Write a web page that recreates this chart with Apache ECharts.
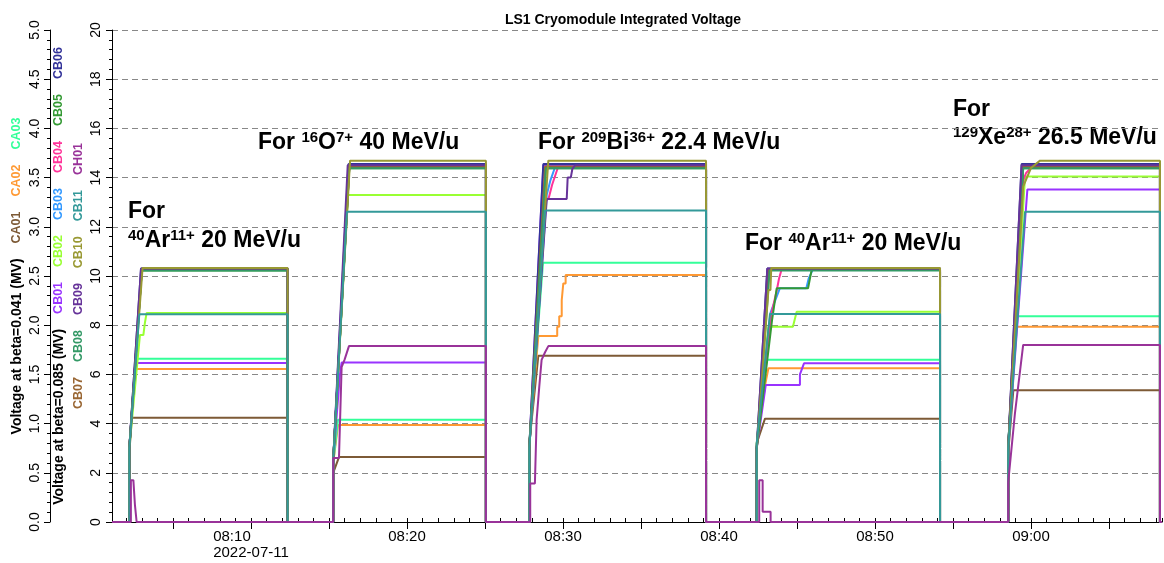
<!DOCTYPE html>
<html>
<head>
<meta charset="utf-8">
<title>LS1 Cryomodule Integrated Voltage</title>
<script src="https://cdn.jsdelivr.net/npm/echarts@6/dist/echarts.min.js"></script>
<style>
  html, body { margin: 0; padding: 0; background: #fff; }
  #chart { width: 1164px; height: 563px; }
</style>
</head>
<body>
<div id="chart"></div>
<script>
// x values: minutes after 08:00 (UTC) on 2022-07-11; y values: MV
const BASE = Date.UTC(2022, 6, 11, 8, 0, 0);
const DATE_LABEL = '2022-07-11';
const X_MIN = 1.09, X_MAX = 68.4;

const names = ['CA01', 'CA02', 'CA03', 'CB01', 'CB02', 'CB03', 'CB04', 'CB05',
  'CB06', 'CB07', 'CB08', 'CB09', 'CB10', 'CB11', 'CH01'];
const colors = ['#7d5a36', '#ff9933', '#33ff99', '#9933ff', '#99ff33', '#3399ff', '#ff3399', '#339933',
  '#333399', '#996633', '#339966', '#663399', '#999933', '#339999', '#993399'];

// beta=0.041 cavities (outer axis, 0..5 MV)
const CA01 = [[1.09,0],[2.2,0],[2.2,0.7],[2.36,1.06],[12.35,1.06],[12.35,0],
  [15.27,0],[15.27,0.5],[15.64,0.66],[25.06,0.66],[25.06,0],
  [27.84,0],[27.84,0.8],[28.42,1.69],[39.17,1.69],[39.17,0],
  [42.42,0],[42.42,0.8],[42.95,1.05],[54.17,1.05],[54.17,0],
  [58.54,0],[58.54,0.7],[58.87,1.34],[68.27,1.34],[68.27,0],[68.4,0]];
const CA02 = [[1.09,0],[2.2,0],[2.2,0.75],[2.58,1.555],[12.35,1.555],[12.35,0],
  [15.27,0],[15.27,0.6],[15.58,0.985],[25.06,0.985],[25.06,0],
  [27.84,0],[27.84,0.8],[28.42,1.89],[29.63,1.89],[29.63,1.985],[29.76,1.985],[29.76,2.09],[29.92,2.09],
  [29.92,2.255],[30.02,2.255],[30.02,2.425],[30.17,2.425],[30.17,2.51],[39.17,2.51],[39.17,0],
  [42.42,0],[42.42,0.8],[42.98,1.41],[43.1,1.41],[43.17,1.5625],[54.17,1.5625],[54.17,0],
  [58.54,0],[58.54,0.75],[59.02,1.985],[68.27,1.985],[68.27,0],[68.4,0]];
const CA03 = [[1.09,0],[2.2,0],[2.2,0.75],[2.63,1.66],[12.35,1.66],[12.35,0],
  [15.27,0],[15.27,0.6],[15.58,1.04],[25.06,1.04],[25.06,0],
  [27.84,0],[27.84,0.8],[28.72,2.635],[39.17,2.635],[39.17,0],
  [42.42,0],[42.42,0.8],[43.06,1.65],[54.17,1.65],[54.17,0],
  [58.54,0],[58.54,0.8],[59.08,2.09],[68.27,2.09],[68.27,0],[68.4,0]];

// beta=0.085 cavities + CH01 (inner axis, 0..20 MV)
const CB01 = [[1.09,0],[2.2,0],[2.2,3],[2.62,6.46],[12.35,6.46],[12.35,0],
  [15.27,0],[15.27,2.5],[15.7,6.0],[15.78,6.0],[15.81,6.48],[25.06,6.48],[25.06,0],
  [27.84,0],[27.84,3],[28.74,14.5],[39.17,14.5],[39.17,0],
  [42.42,0],[42.42,3],[43.0,5.57],[45.19,5.57],[45.19,6.0],[45.3,6.0],[45.45,6.45],[54.17,6.45],[54.17,0],
  [58.54,0],[58.54,3],[59.77,13.52],[68.27,13.52],[68.27,0],[68.4,0]];
const CB02 = [[1.09,0],[2.2,0],[2.2,3],[2.88,7.6],[3.1,7.6],[3.2,8.1],[3.31,8.5],[12.35,8.5],[12.35,0],
  [15.27,0],[15.27,2.5],[16.22,13.29],[25.06,13.29],[25.06,0],
  [27.84,0],[27.84,3],[28.9,14.4],[39.17,14.4],[39.17,0],
  [42.42,0],[42.42,3],[43.17,7.94],[44.74,7.94],[44.98,8.55],[54.17,8.55],[54.17,0],
  [58.54,0],[58.54,3],[59.62,14.04],[68.27,14.04],[68.27,0],[68.4,0]];
const CB03 = [[1.09,0],[2.2,0],[2.2,3],[3.0,10.28],[12.35,10.28],[12.35,0],
  [15.27,0],[15.27,2.5],[16.3,14.42],[25.06,14.42],[25.06,0],
  [27.84,0],[27.84,3],[28.96,13.3],[29.2,13.9],[29.49,14.42],[39.17,14.42],[39.17,0],
  [42.42,0],[42.42,3],[43.3,8.5],[43.9,9.5],[45.6,9.5],[45.75,9.9],[46.03,10.28],[54.17,10.28],[54.17,0],
  [58.54,0],[58.54,3],[59.5,14.42],[68.27,14.42],[68.27,0],[68.4,0]];
const CB04 = [[1.09,0],[2.2,0],[2.2,3],[3.0,10.28],[12.35,10.28],[12.35,0],
  [15.27,0],[15.27,2.5],[16.3,14.42],[25.06,14.42],[25.06,0],
  [27.84,0],[27.84,3],[28.86,13.0],[29.1,13.2],[29.3,13.7],[29.68,14.42],[39.17,14.42],[39.17,0],
  [42.42,0],[42.42,3],[43.37,8.5],[43.7,9.4],[43.85,9.9],[44.02,10.28],[54.17,10.28],[54.17,0],
  [58.54,0],[58.54,3],[59.5,13.9],[59.7,14.2],[60.05,14.42],[68.27,14.42],[68.27,0],[68.4,0]];
const CB05 = [[1.09,0],[2.2,0],[2.2,3],[3.0,10.22],[12.35,10.22],[12.35,0],
  [15.27,0],[15.27,2.5],[16.3,14.38],[25.06,14.38],[25.06,0],
  [27.84,0],[27.84,3],[28.9,14.38],[39.17,14.38],[39.17,0],
  [42.42,0],[42.42,3],[43.4,8.2],[43.7,9.5],[45.71,9.5],[45.94,10.25],[54.17,10.25],[54.17,0],
  [58.54,0],[58.54,3],[59.5,14.38],[68.27,14.38],[68.27,0],[68.4,0]];
const CB06 = [[1.09,0],[2.2,0],[2.2,3],[2.95,10.3],[12.35,10.3],[12.35,0],
  [15.27,0],[15.27,2.5],[16.25,14.55],[25.06,14.55],[25.06,0],
  [27.84,0],[27.84,3],[28.74,14.55],[39.17,14.55],[39.17,0],
  [42.42,0],[42.42,3],[43.1,10.3],[54.17,10.3],[54.17,0],
  [58.54,0],[58.54,3],[59.4,14.55],[68.27,14.55],[68.27,0],[68.4,0]];
const CB07 = [[1.09,0],[2.2,0],[2.2,3],[3.0,10.25],[12.35,10.25],[12.35,0],
  [15.27,0],[15.27,2.5],[16.3,14.45],[25.06,14.45],[25.06,0],
  [27.84,0],[27.84,3],[28.85,14.45],[39.17,14.45],[39.17,0],
  [42.42,0],[42.42,3],[43.2,10.25],[54.17,10.25],[54.17,0],
  [58.54,0],[58.54,3],[59.45,14.45],[68.27,14.45],[68.27,0],[68.4,0]];
const CB08 = [[1.09,0],[2.2,0],[2.2,3],[3.0,10.22],[12.35,10.22],[12.35,0],
  [15.27,0],[15.27,2.5],[16.3,14.38],[25.06,14.38],[25.06,0],
  [27.84,0],[27.84,3],[28.9,14.38],[39.17,14.38],[39.17,0],
  [42.42,0],[42.42,3],[43.25,10.22],[54.17,10.22],[54.17,0],
  [58.54,0],[58.54,3],[59.5,14.38],[68.27,14.38],[68.27,0],[68.4,0]];
const CB09 = [[1.09,0],[2.2,0],[2.2,3],[2.95,10.3],[12.35,10.3],[12.35,0],
  [15.27,0],[15.27,2.5],[16.2,14.5],[25.06,14.5],[25.06,0],
  [27.84,0],[27.84,3],[28.96,13.13],[30.24,13.13],[30.3,14.0],[30.5,14.0],[30.6,14.35],[30.77,14.5],[39.17,14.5],[39.17,0],
  [42.42,0],[42.42,3],[43.1,10.3],[54.17,10.3],[54.17,0],
  [58.54,0],[58.54,3],[59.4,14.5],[68.27,14.5],[68.27,0],[68.4,0]];
const CB10 = [[1.09,0],[2.2,0],[2.2,3],[3.05,10.33],[12.35,10.33],[12.35,0],
  [15.27,0],[15.27,2.5],[16.35,14.69],[25.06,14.69],[25.06,0],
  [27.84,0],[27.84,3],[29.06,14.69],[39.17,14.69],[39.17,0],
  [42.42,0],[42.42,3],[43.17,9.43],[43.3,9.43],[43.35,10.33],[54.17,10.33],[54.17,0],
  [58.54,0],[58.54,3],[59.5,13.63],[60.0,14.39],[60.58,14.69],[68.27,14.69],[68.27,0],[68.4,0]];
const CB11 = [[1.09,0],[2.2,0],[2.2,3],[2.84,8.45],[12.35,8.45],[12.35,0],
  [15.27,0],[15.27,2.5],[16.15,12.61],[25.06,12.61],[25.06,0],
  [27.84,0],[27.84,3],[28.85,12.66],[39.17,12.66],[39.17,0],
  [42.42,0],[42.42,3.2],[43.27,8.46],[54.17,8.46],[54.17,0],
  [58.54,0],[58.54,3],[59.62,12.61],[68.27,12.61],[68.27,0],[68.4,0]];
const CH01 = [[1.09,0],[2.3,0],[2.3,1.7],[2.46,1.7],[2.56,0.7],[2.67,0],
  [15.27,0],[15.27,2.6],[15.64,2.6],[15.81,6.3],[16.0,6.6],[16.28,7.15],[25.06,7.15],[25.06,0],
  [27.9,0],[27.9,1.57],[28.2,1.57],[28.31,4.15],[28.48,5.5],[28.63,6.59],[28.85,6.9],[29.06,7.15],[39.17,7.15],[39.17,0],
  [42.58,0],[42.58,1.7],[42.8,1.7],[42.8,0.42],[43.31,0.42],[43.31,0],
  [58.54,0],[58.54,1.6],[58.97,4.4],[59.5,7.2],[68.27,7.2],[68.27,0],[68.4,0]];

const seriesData = [CA01, CA02, CA03, CB01, CB02, CB03, CB04, CB05, CB06, CB07, CB08, CB09, CB10, CB11, CH01];
const outerNames = ['CA01', 'CA02', 'CA03'];
const innerRow1 = ['CB01', 'CB02', 'CB03', 'CB04', 'CB05', 'CB06'];
const innerRow2 = ['CB07', 'CB08', 'CB09', 'CB10', 'CB11', 'CH01'];

const FONT = '"Liberation Sans", Arial, sans-serif';
const toMs = (m) => BASE + Math.round(m * 60000);
const pad = (n) => (n < 10 ? '0' : '') + n;

// axis titles carry the trace names, coloured like the traces
const nameRich = { t: { fontSize: 14, fontWeight: 'bold', fontFamily: FONT, color: '#000', lineHeight: 20, align: 'center' } };
names.forEach((n, i) => {
  nameRich[n] = { fontSize: 12.5, fontWeight: 'bold', fontFamily: FONT, color: colors[i],
    lineHeight: 20, align: 'center', padding: [0, 0, 0, 15] };
});
const tag = (n) => '{' + n + '|' + n + '}';
const outerName = '{t|Voltage at beta=0.041 (MV)}' + outerNames.map(tag).join('');
const innerName = '{t|Voltage at beta=0.085 (MV)}' + innerRow1.map(tag).join('') + '\n' +
  innerRow2.map((n, i) => i === 0 ? '{' + n + '0|' + n + '}' : tag(n)).join('');
nameRich[innerRow2[0] + '0'] = Object.assign({}, nameRich[innerRow2[0]], { padding: 0 });

const firstTick = Math.ceil(toMs(X_MIN) / 600000) * 600000;

const annRich = {
  m: { fontSize: 23, fontWeight: 'bold', fontFamily: FONT, color: '#000', lineHeight: 26, verticalAlign: 'middle' },
  s: { fontSize: 15, fontWeight: 'bold', fontFamily: FONT, color: '#000', lineHeight: 15, verticalAlign: 'top' }
};
const annotations = [
  { x: 128, y: 212, text: '{m|For}' },
  { x: 128, y: 241, text: '{s|40}{m|Ar}{s|11+}{m| 20 MeV/u}' },
  { x: 258, y: 143, text: '{m|For }{s|16}{m|O}{s|7+}{m| 40 MeV/u}' },
  { x: 538, y: 143, text: '{m|For }{s|209}{m|Bi}{s|36+}{m| 22.4 MeV/u}' },
  { x: 745, y: 244, text: '{m|For }{s|40}{m|Ar}{s|11+}{m| 20 MeV/u}' },
  { x: 953, y: 110, text: '{m|For}' },
  { x: 953, y: 138, text: '{s|129}{m|Xe}{s|28+}{m| 26.5 MeV/u}' }
];

const chart = echarts.init(document.getElementById('chart'));
chart.setOption({
  animation: false,
  useUTC: true,
  backgroundColor: '#fff',
  title: {
    text: 'LS1 Cryomodule Integrated Voltage',
    left: 618, top: 8, textAlign: 'center',
    textStyle: { fontSize: 14, fontWeight: 'bold', fontFamily: FONT, color: '#000' }
  },
  grid: { left: 112, right: 2, top: 30, bottom: 41, containLabel: false },
  xAxis: [{
    type: 'time',
    min: toMs(X_MIN), max: toMs(X_MAX),
    minInterval: 600000, maxInterval: 600000,
    axisLine: { lineStyle: { color: '#000', width: 1 } },
    axisTick: { length: 7, lineStyle: { color: '#000' } },
    splitLine: { show: false },
    axisLabel: {
      margin: 7, color: '#000', fontSize: 15, fontFamily: FONT, lineHeight: 16,
      showMinLabel: false, showMaxLabel: false, hideOverlap: false,
      formatter: (v) => {
        const d = new Date(v);
        if (d.getUTCSeconds() || d.getUTCMinutes() % 10) return '';
        const hm = pad(d.getUTCHours()) + ':' + pad(d.getUTCMinutes());
        if (v === firstTick) return '{a|' + hm + '}\n{a|' + DATE_LABEL + '}';
        return hm;
      },
      rich: { a: { align: 'left', fontSize: 15, fontFamily: FONT, color: '#000', lineHeight: 16 } }
    }
  }, {
    type: 'time',
    min: toMs(X_MIN), max: toMs(X_MAX),
    minInterval: 120000, maxInterval: 120000,
    axisLine: { show: false },
    axisTick: { length: 4, lineStyle: { color: '#000' } },
    axisLabel: { show: false },
    splitLine: { show: false }
  }],
  yAxis: [{
    type: 'value', position: 'left', offset: 62,
    min: 0, max: 5, interval: 0.5,
    name: outerName, nameLocation: 'middle', nameRotate: 90, nameGap: 23,
    nameMoveOverlap: false,
    nameTextStyle: { rich: nameRich },
    axisLine: { show: true, lineStyle: { color: '#000' } },
    axisTick: { show: true, length: 6, lineStyle: { color: '#000' } },
    minorTick: { show: true, splitNumber: 5, length: 3, lineStyle: { color: '#000' } },
    splitLine: { show: false },
    axisLabel: { rotate: 90, margin: 8, color: '#000', fontSize: 14, fontFamily: FONT,
      formatter: (v) => v.toFixed(1) }
  }, {
    type: 'value', position: 'left', offset: 0,
    min: 0, max: 20, interval: 2,
    name: innerName, nameLocation: 'middle', nameRotate: 90, nameGap: 23,
    nameMoveOverlap: false,
    nameTextStyle: { rich: nameRich },
    axisLine: { show: true, lineStyle: { color: '#000' } },
    axisTick: { show: true, length: 6, lineStyle: { color: '#000' } },
    minorTick: { show: true, splitNumber: 5, length: 3, lineStyle: { color: '#000' } },
    splitLine: { show: true, lineStyle: { color: '#888', type: [6, 4], width: 1 } },
    axisLabel: { rotate: 90, margin: 9, color: '#000', fontSize: 14, fontFamily: FONT }
  }],
  graphic: annotations.map((a) => ({
    type: 'text', x: a.x, y: a.y, silent: true,
    style: { text: a.text, rich: annRich, align: 'left', verticalAlign: 'middle', fill: '#000' }
  })),
  series: seriesData.map((d, i) => ({
    name: names[i],
    type: 'line',
    xAxisIndex: 0,
    yAxisIndex: names[i].startsWith('CA') ? 0 : 1,
    showSymbol: false,
    symbol: 'none',
    lineStyle: { width: 2, color: colors[i] },
    itemStyle: { color: colors[i] },
    emphasis: { disabled: true },
    data: d.map((p) => [toMs(p[0]), p[1]])
  }))
});
</script>
</body>
</html>
